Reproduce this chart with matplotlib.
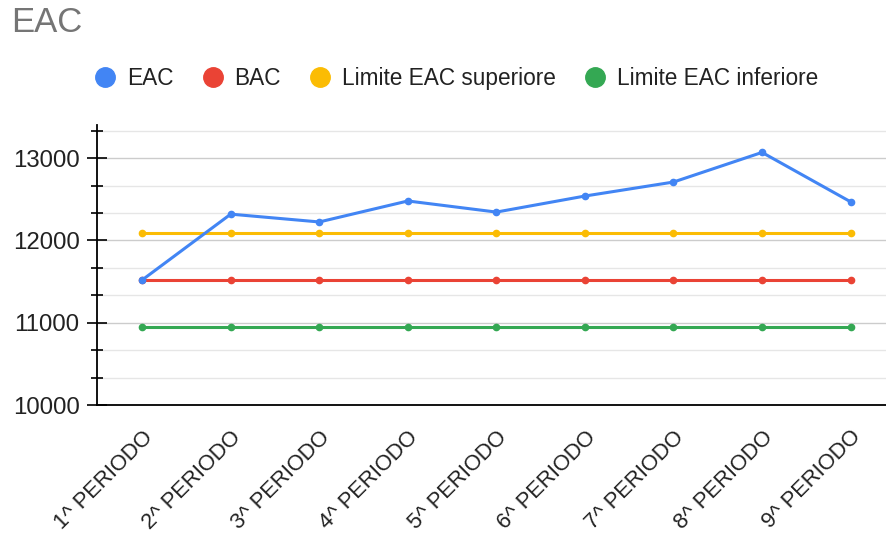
import numpy as np
import matplotlib.pyplot as plt
from matplotlib.ticker import FixedLocator
from matplotlib.lines import Line2D

periods = [f"{i}^ PERIODO" for i in range(1, 10)]
eac = [11520, 12320, 12225, 12480, 12345, 12540, 12710, 13070, 12470]
bac = [11520] * 9
lim_sup = [12096] * 9
lim_inf = [10944] * 9

series = [
    ("EAC", eac, "#4285F4"),
    ("BAC", bac, "#EA4335"),
    ("Limite EAC superiore", lim_sup, "#FBBC04"),
    ("Limite EAC inferiore", lim_inf, "#34A853"),
]

plt.rcParams['font.family'] = ['Liberation Sans', 'DejaVu Sans']

fig = plt.figure(figsize=(8.86, 5.33), dpi=100)
ax = fig.add_axes([0.1095, 0.24, 0.8905, 0.525])

x = np.arange(len(periods))
# constant lines first so EAC sits on top
for name, vals, col in series[::-1]:
    ax.plot(x, vals, color=col, lw=2.2, marker='o', ms=4.5, label=name,
            solid_capstyle='round')

ax.set_xlim(-0.51, 8.4)
ax.set_ylim(10000, 13400)

ax.yaxis.set_major_locator(FixedLocator([10000, 11000, 12000, 13000]))
ax.yaxis.set_minor_locator(FixedLocator([10000 + k * 1000 / 3 for k in range(11)]))
ax.yaxis.set_major_formatter(plt.FuncFormatter(lambda v, p: f"{int(v)}"))
ax.grid(axis='y', which='minor', color='#e6e6e6', lw=1)
ax.grid(axis='y', which='major', color='#cccccc', lw=1)
ax.set_axisbelow(True)

ax.tick_params(axis='y', which='major', direction='inout', length=15, width=1.2,
               labelsize=17.3, pad=5, colors='black', labelcolor='#222222')
ax.tick_params(axis='y', which='minor', direction='inout', length=8, width=1.2)

ax.set_xticks(x)
ax.set_xticklabels(periods, rotation=45, ha='right', rotation_mode='anchor',
                   fontsize=15.8, color='#222222')
# white ticks make the small gaps in the baseline
ax.tick_params(axis='x', direction='inout', length=3, width=2, color='white', pad=14)

for s in ['top', 'right']:
    ax.spines[s].set_visible(False)
ax.spines['left'].set_linewidth(1.3)
ax.spines['bottom'].set_linewidth(1.3)

fig.text(0.012, 0.957, "EAC", fontsize=25, color='#757575', va='center', ha='left')

hs = [Line2D([], [], ls='', marker='o', ms=14, color=c) for _, _, c in series]
fig.legend(hs, [s[0] for s in series], loc='center', bbox_to_anchor=(0.516, 0.853),
           ncol=4, frameon=False, fontsize=16.3, handlelength=0.8,
           handletextpad=0.55, columnspacing=1.35, labelcolor='#222222')

fig.savefig("out.png", dpi=100, facecolor='white')
